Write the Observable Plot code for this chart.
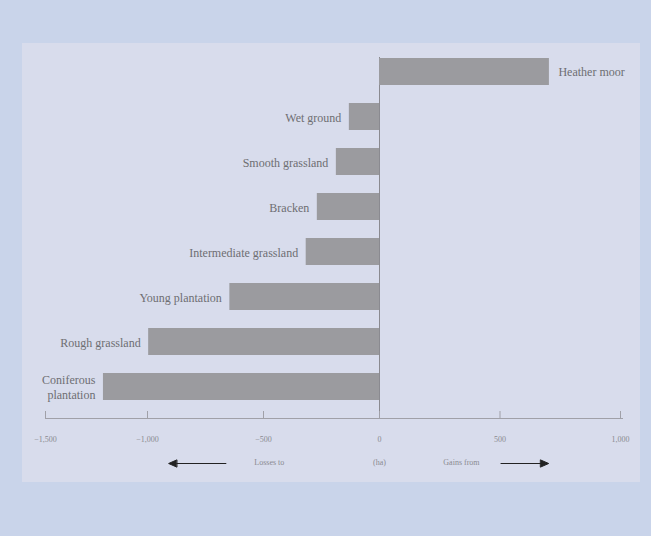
<!DOCTYPE html>
<html>
<head>
<meta charset="utf-8">
<script src="https://cdn.jsdelivr.net/npm/d3@7"></script>
<script src="https://cdn.jsdelivr.net/npm/@observablehq/plot@0.6"></script>
<style>
  html, body { margin: 0; padding: 0; }
  body { width: 651px; height: 536px; background: #c9d4ea; position: relative; overflow: hidden; }
  #panel { position: absolute; left: 22px; top: 43px; width: 618px; height: 439px; background: #d8dcec; }
  #chart { position: absolute; left: 0; top: 0; }
  #chart svg { background: transparent; }
</style>
</head>
<body>
<div id="panel"></div>
<div id="chart"></div>
<script>
// Land-cover categories (top to bottom) and net change values
const categories = [
  "Heather moor",
  "Wet ground",
  "Smooth grassland",
  "Bracken",
  "Intermediate grassland",
  "Young plantation",
  "Rough grassland",
  "Coniferous\nplantation"
];
const values = [705, -130, -186, -268, -316, -645, -995, -1216];

// Axis ticks
const tickValues = [-1500, -1000, -500, 0, 500, 1000];

// Bottom annotations (in data units along x)
const noteLabels = ["Losses to", "(ha)", "Gains from"];
const noteX = [-475, 0, 340];
const arrowFrom = [-662, 504];
const arrowTo = [-909, 702];

const data = categories.map((c, i) => ({category: c, value: values[i]}));

// The original axis is not evenly spaced: reproduce its piecewise spacing
const warp = d3.scaleLinear().domain([-1500, -1000, 0, 1000]).range([45, 147, 379, 620]);

const arrowShape = {
  draw(context, l) {
    const h = 8, w = 3.5;
    context.moveTo(0, 0);
    context.lineTo(0, -l + h);
    context.moveTo(-w, -l + h);
    context.lineTo(0, -l);
    context.lineTo(w, -l + h);
    context.closePath();
  }
};

const arrowMarks = arrowFrom.map((f, i) => Plot.vector([f], {
  x: d => d,
  frameAnchor: "bottom",
  dy: 45,
  anchor: "start",
  length: Math.abs(warp(arrowTo[i]) - warp(f)),
  rotate: arrowTo[i] < f ? -90 : 90,
  shape: arrowShape,
  stroke: "#222",
  fill: "#222",
  strokeWidth: 1
}));

const serif = "'Liberation Serif', 'DejaVu Serif', serif";

const chart = Plot.plot({
  width: 651,
  height: 536,
  marginLeft: 45,
  marginRight: 29,
  marginTop: 57,
  marginBottom: 118,
  style: {background: "transparent", fontFamily: serif},
  x: {type: "linear", transform: warp, domain: [45, 620], range: [45, 620], axis: null, label: null},
  y: {
    domain: categories,
    range: [48.5, 409],
    paddingInner: 0.4,
    paddingOuter: 0.2,
    axis: null
  },
  marks: [
    Plot.ruleX([0], {stroke: "#8a8a90", strokeWidth: 1}),
    Plot.barX(data, {y: "category", x1: d => 0, x2: "value", fill: "#9b9b9f"}),
    Plot.text(data, {
      y: "category",
      x: "value",
      text: "category",
      textAnchor: "end",
      dx: -8,
      filter: d => d.value < 0,
      fontSize: 12,
      fill: "#6e6e72",
      lineHeight: 1.17,
      fontFamily: serif
    }),
    Plot.text(data, {
      y: "category",
      x: "value",
      text: "category",
      textAnchor: "start",
      dx: 9,
      filter: d => d.value >= 0,
      fontSize: 12,
      fill: "#6e6e72",
      fontFamily: serif
    }),
    Plot.frame({anchor: "bottom", stroke: "#a0a0a8", strokeWidth: 1}),
    Plot.ruleX(tickValues, {x: d => d, insetTop: 361 - 7, insetBottom: -1, stroke: "#a0a0a8"}),
    Plot.axisX(tickValues, {
      anchor: "bottom",
      label: null,
      tickSize: 0,
      tickPadding: 18,
      tickFormat: d3.format(","),
      fontSize: 8,
      fill: "#8a8a90",
      fontFamily: serif
    }),
    Plot.text(noteLabels, {
      x: (d, i) => noteX[i],
      text: d => d,
      frameAnchor: "bottom",
      dy: 46,
      fontSize: 8,
      fill: "#8a8a90",
      fontFamily: serif
    }),
    ...arrowMarks
  ]
});

document.getElementById("chart").appendChild(chart);
</script>
</body>
</html>
